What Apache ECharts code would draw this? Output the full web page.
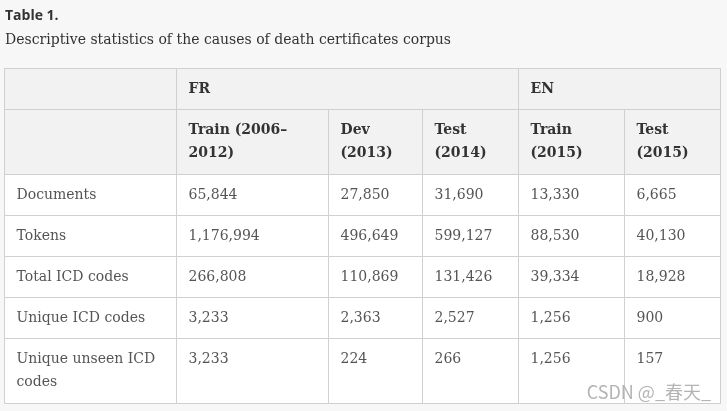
<!DOCTYPE html>
<html>
<head>
<meta charset="utf-8">
<script src="https://cdn.jsdelivr.net/npm/echarts@6/dist/echarts.min.js"></script>
<style>
html, body { margin: 0; padding: 0; background: #f7f7f7; }
#main { width: 727px; height: 411px; }
</style>
</head>
<body>
<div id="main"></div>
<script>
// table content
const groups = ['FR', 'EN'];
const splits = [
  ['Train (2006–\n2012)', 'Dev\n(2013)', 'Test\n(2014)'],
  ['Train\n(2015)', 'Test\n(2015)']
];
const rowNames = ['Documents', 'Tokens', 'Total ICD codes', 'Unique ICD codes', 'Unique unseen ICD\ncodes'];
const frTrain = [65844, 1176994, 266808, 3233, 3233];
const frDev = [27850, 496649, 110869, 2363, 224];
const frTest = [31690, 599127, 131426, 2527, 266];
const enTrain = [13330, 88530, 39334, 1256, 1256];
const enTest = [6665, 40130, 18928, 900, 157];
const columns = [frTrain, frDev, frTest, enTrain, enTest];

const colWidths = [[152, 94, 96], [106, 96]];
const rowHeights = [41, 41, 41, 41, 65];

const chart = echarts.init(document.getElementById('main'));

const serif = 'DejaVu Serif';
const lineColor = '#d0d0d0';
const cellLabel = {
  fontFamily: serif,
  fontSize: 14,
  lineHeight: 23,
  color: '#555',
  position: 'insideTopLeft',
  distance: 0,
  padding: [9, 0, 0, 12]
};
const border = { borderColor: lineColor, borderWidth: 1 };

const bodyData = [];
columns.forEach((col, c) => {
  col.forEach((v, r) => {
    bodyData.push({ coord: [c, r], value: v.toLocaleString('en-US') });
  });
});

const option = {
  title: [
    {
      text: 'Table 1.',
      left: 5, top: 9, padding: 0,
      textStyle: { fontFamily: 'Open Sans', fontSize: 14, fontWeight: 'bold', color: '#333' }
    },
    {
      text: 'Descriptive statistics of the causes of death certificates corpus',
      left: 5, top: 33, padding: 0,
      textStyle: { fontFamily: serif, fontSize: 14, fontWeight: 'normal', color: '#333' }
    }
  ],
  graphic: [{
    type: 'text',
    right: 16, bottom: 10,
    style: { text: 'CSDN @_春天_', fontFamily: 'Noto Sans CJK SC', fontSize: 18, fill: '#b4b4b4' }
  }],
  matrix: {
    left: 4, top: 68, width: 716, height: 335,
    x: {
      data: groups.map((g, i) => ({
        value: g,
        children: splits[i].map((s, j) => ({ value: s, size: colWidths[i][j] }))
      })),
      levels: [{ levelSize: 41 }, { levelSize: 65 }],
      label: Object.assign({}, cellLabel, { fontWeight: 'bold', color: '#333' }),
      itemStyle: Object.assign({ color: '#f2f2f2' }, border),
      dividerLineStyle: { color: lineColor, width: 1 }
    },
    y: {
      data: rowNames.map((n, i) => ({ value: n, size: rowHeights[i] })),
      levelSize: 172,
      label: cellLabel,
      itemStyle: Object.assign({ color: '#fff' }, border),
      dividerLineStyle: { color: lineColor, width: 1 }
    },
    corner: {
      itemStyle: Object.assign({ color: '#f2f2f2' }, border)
    },
    body: {
      data: bodyData,
      label: cellLabel,
      itemStyle: Object.assign({ color: '#fff' }, border)
    },
    backgroundStyle: Object.assign({ color: '#fff' }, border)
  }
};
chart.setOption(option);
</script>
</body>
</html>
